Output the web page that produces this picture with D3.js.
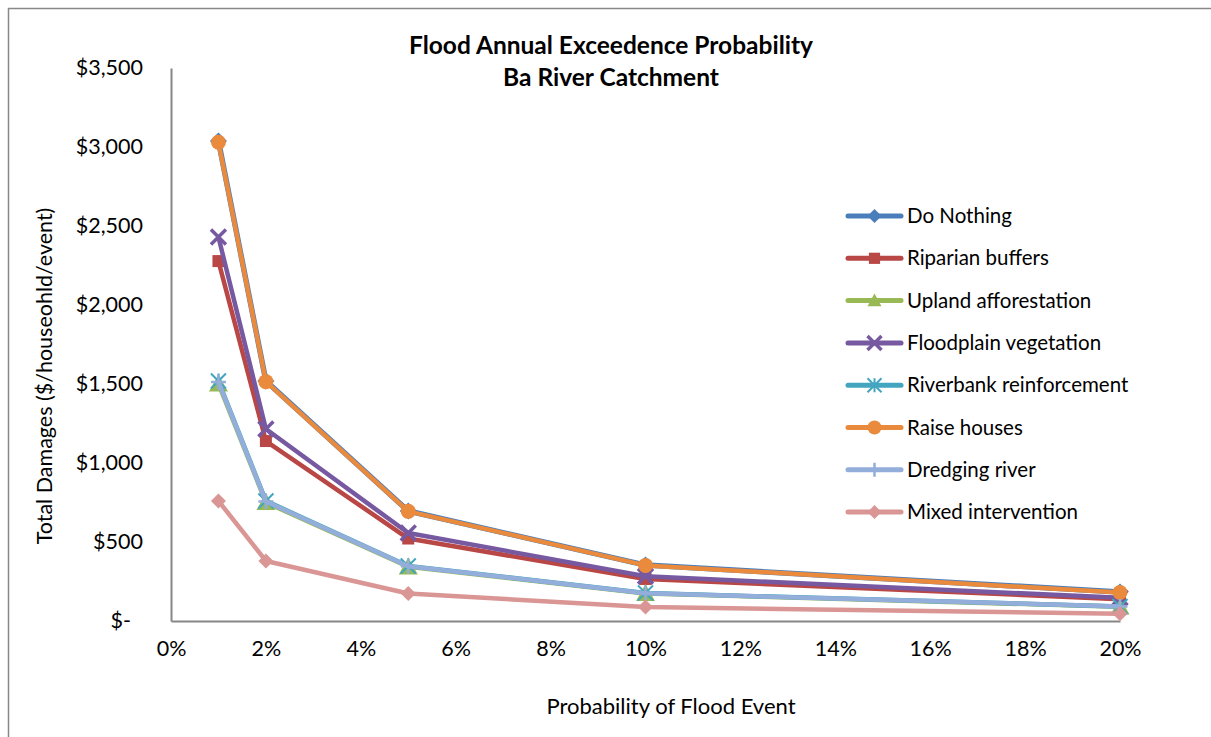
<!DOCTYPE html>
<html><head><meta charset="utf-8">
<script src="https://cdn.jsdelivr.net/npm/d3@7"></script>
<style>
html,body{margin:0;padding:0;background:#fff;}
svg{display:block;font-family:Lato,"Open Sans",sans-serif;}
</style></head>
<body>
<svg id="chart" width="1211" height="737"></svg>
<script>
// ---- data ----
const probabilities = [0.01, 0.02, 0.05, 0.10, 0.20];
const seriesNames = ["Do Nothing","Riparian buffers","Upland afforestation","Floodplain vegetation","Riverbank reinforcement","Raise houses","Dredging river","Mixed intervention"];
const doNothing   = [3038, 1519, 696, 354, 184];
const riparian    = [2278, 1139, 522, 266, 138];
const upland      = [1500, 750, 343, 174, 90];
const floodplain  = [2430, 1215, 557, 283, 147];
const riverbank   = [1519, 760, 348, 177, 92];
const raiseHouses = [3030, 1515, 694, 352, 180];
const dredging    = [1512, 756, 347, 176, 92];
const mixed       = [760, 380, 174, 88, 46];
const yTicks = [0, 500, 1000, 1500, 2000, 2500, 3000, 3500];
const yTickLabels = ["$-", "$500", "$1,000", "$1,500", "$2,000", "$2,500", "$3,000", "$3,500"];
const xTicks = [0, 0.02, 0.04, 0.06, 0.08, 0.10, 0.12, 0.14, 0.16, 0.18, 0.20];
const titleLines = ["Flood Annual Exceedence Probability", "Ba River Catchment"];
const xTitle = "Probability of Flood Event";
const yTitle = "Total Damages ($/houseohld/event)";

const allValues = [doNothing, riparian, upland, floodplain, riverbank, raiseHouses, dredging, mixed];
const colors = ["#4A7EBB","#B84745","#98B954","#7659A0","#43A5BF","#EA8A3C","#93AEDA","#D99694"];
const markers = ["diamond","square","triangle","x","asterisk","circle","plus","diamond"];
const widths = [5.5, 4.5, 4.5, 4.5, 4.5, 4.5, 4.5, 4.5];

const svg = d3.select("#chart");
const x = d3.scaleLinear().domain([0, 0.2]).range([171, 1120]);
const y = d3.scaleLinear().domain([0, 3500]).range([621, 68]);

// outer border (top/left visible)
svg.append("path").attr("d","M8.5,737 L8.5,8.5 L1211,8.5").attr("fill","none").attr("stroke","#888").attr("stroke-width",1.5);

// axes
const yAxis = d3.axisLeft(y).tickValues(yTicks).tickSize(0).tickPadding(28)
  .tickFormat((d,i)=>yTickLabels[i]);
const gy = svg.append("g").attr("transform","translate(171,0)").call(yAxis);
gy.select(".domain").attr("stroke","#868686").attr("stroke-width",2);
gy.selectAll("text").attr("font-size",21.5).attr("fill","#000").attr("font-family","Lato");
gy.selectAll(".tick").filter(d=>d===0).select("text").attr("dx",-12);

const xAxis = d3.axisBottom(x).tickValues(xTicks).tickSize(0).tickPadding(20)
  .tickFormat(d3.format(".0%"));
const gx = svg.append("g").attr("transform","translate(0,621)").call(xAxis);
gx.select(".domain").attr("stroke","#868686").attr("stroke-width",2);
gx.selectAll("text").attr("font-size",21.5).attr("fill","#000").attr("font-family","Lato");

// titles
const t = svg.append("text").attr("text-anchor","middle").attr("font-weight","bold").attr("font-size",24.5).attr("fill","#000");
t.selectAll("tspan").data(titleLines).join("tspan").attr("x",611).attr("y",(d,i)=>54+i*32).text(d=>d);
svg.append("text").attr("x",671).attr("y",714).attr("text-anchor","middle").attr("font-size",22).text(xTitle);
svg.append("text").attr("transform","translate(52,376) rotate(-90)").attr("text-anchor","middle").attr("font-size",21.5).text(yTitle);

function markerPath(type, size){
  const s = size;
  switch(type){
    case "diamond": return `M0,${-s}L${s},0L0,${s}L${-s},0Z`;
    case "square": return `M${-s*0.8},${-s*0.8}H${s*0.8}V${s*0.8}H${-s*0.8}Z`;
    case "triangle": return `M0,${-s}L${s},${s*0.8}L${-s},${s*0.8}Z`;
    case "circle": return d3.symbol(d3.symbolCircle, Math.PI*s*s)();
    default: return null;
  }
}
function drawMarker(g, type, color, cx, cy, size){
  if(type==="x"){
    g.append("path").attr("d",`M${cx-size},${cy-size}L${cx+size},${cy+size}M${cx-size},${cy+size}L${cx+size},${cy-size}`)
      .attr("stroke",color).attr("stroke-width",3.5).attr("fill","none");
  } else if(type==="asterisk"){
    g.append("path").attr("d",`M${cx-size},${cy-size}L${cx+size},${cy+size}M${cx-size},${cy+size}L${cx+size},${cy-size}M${cx},${cy-size}L${cx},${cy+size}`)
      .attr("stroke",color).attr("stroke-width",2).attr("fill","none");
  } else if(type==="plus"){
    g.append("path").attr("d",`M${cx-size},${cy}L${cx+size},${cy}M${cx},${cy-size}L${cx},${cy+size}`)
      .attr("stroke",color).attr("stroke-width",2.5).attr("fill","none");
  } else {
    g.append("path").attr("d",markerPath(type,size)).attr("transform",`translate(${cx},${cy})`).attr("fill",color);
  }
}

const line = d3.line().x(d=>x(d[0])).y(d=>y(d[1]));
const plot = svg.append("g");
allValues.forEach((vals,si)=>{
  const pts = probabilities.map((p,i)=>[p, vals[i]]);
  const g = plot.append("g");
  g.append("path").attr("d",line(pts)).attr("fill","none").attr("stroke",colors[si])
    .attr("stroke-width",widths[si]).attr("stroke-linejoin","round").attr("stroke-linecap","round");
  const sz = si===0 ? 8.5 : (markers[si]==="triangle" ? 9.5 : 7.5);
  pts.forEach(pt=>drawMarker(g, markers[si], colors[si], x(pt[0]), y(pt[1]), sz));
});

// legend
const legend = svg.append("g");
seriesNames.forEach((name,i)=>{
  const cy = 216 + i*42.3;
  const g = legend.append("g");
  g.append("line").attr("x1",848).attr("x2",901).attr("y1",cy).attr("y2",cy)
    .attr("stroke",colors[i]).attr("stroke-width",5).attr("stroke-linecap","round");
  drawMarker(g, markers[i], colors[i], 874.5, cy, 7);
  g.append("text").attr("x",907).attr("y",cy+7).attr("font-size",20.5).attr("fill","#000").text(name);
});
</script>
</body></html>
